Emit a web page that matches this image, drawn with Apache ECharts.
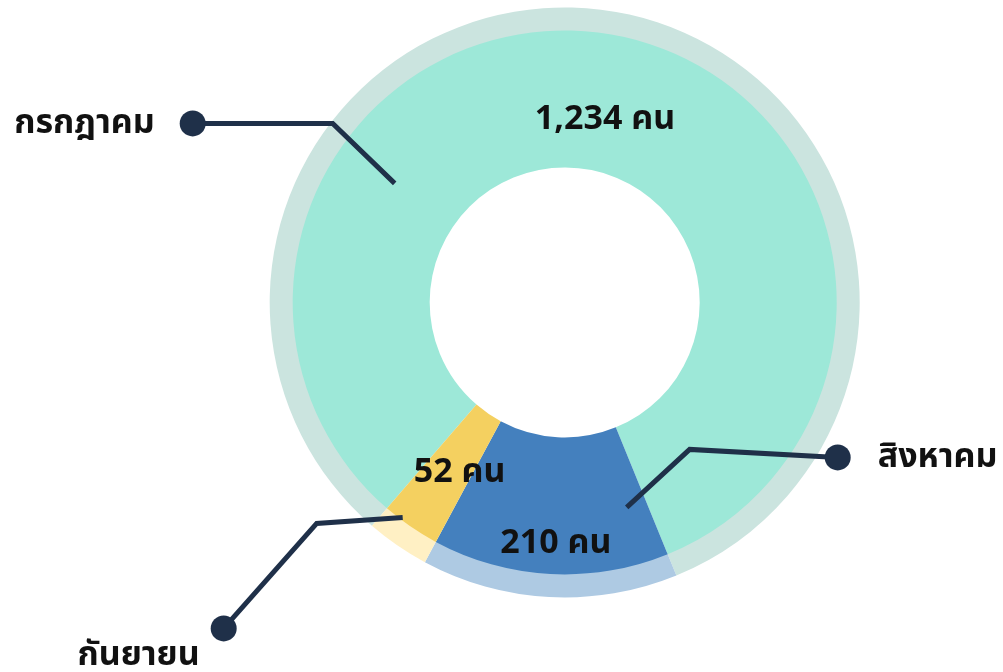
<!DOCTYPE html>
<html>
<head>
<meta charset="utf-8">
<script src="https://cdn.jsdelivr.net/npm/echarts@6/dist/echarts.min.js"></script>
<style>
  html, body { margin: 0; padding: 0; background: #fff; }
  #main { width: 1003px; height: 672px; }
</style>
</head>
<body>
<div id="main"></div>
<script>
// ข้อมูล
var months = ['กรกฎาคม', 'สิงหาคม', 'กันยายน'];
var counts = [1234, 210, 52];
var unit = 'คน';

var mainColors = ['#9de8d8', '#4480be', '#f4d060'];
var rimColors = ['#cbe4df', '#aecae3', '#fff0c4'];
var lineColor = '#1f3049';
var fontFamily = "'Noto Sans', 'Noto Sans Thai', sans-serif";

// callout geometry (offsets from pie centre): start, knee, dot
var callouts = [
  [[-170, -119], [-232, -179], [-372, -179]],
  [[62, 205], [125, 147], [273, 155]],
  [[-162, 215], [-248, 221], [-341, 326]]
];
// nudges for the value labels
var valueShift = [[7, 21], [2, 35], [12, 0]];

var chart = echarts.init(document.getElementById('main'));

function pieCenter() {
  return [chart.getWidth() * 0.563, chart.getHeight() * 0.45];
}

function pieData(colors) {
  return months.map(function (m, i) {
    return { name: m, value: counts[i], itemStyle: { color: colors[i] } };
  });
}

var option = {
  backgroundColor: '#fff',
  animation: false,
  series: [
    {
      name: 'rim',
      type: 'pie',
      center: ['56.3%', '45%'],
      radius: [271, 295],
      startAngle: 229.2,
      silent: true,
      z: 1,
      data: pieData(rimColors),
      label: { show: false },
      labelLine: { show: false }
    },
    {
      name: 'main',
      type: 'pie',
      center: ['56.3%', '45%'],
      radius: [135, 272],
      startAngle: 229.2,
      silent: true,
      z: 2,
      data: pieData(mainColors),
      label: {
        show: true,
        position: 'inside',
        fontFamily: fontFamily,
        fontSize: 34,
        fontWeight: 'bold',
        color: '#111',
        formatter: function (p) {
          return p.value.toLocaleString('en-US') + ' ' + unit;
        }
      },
      labelLine: { show: false },
      labelLayout: function (p) {
        var s = valueShift[p.dataIndex];
        return { dx: s[0], dy: s[1] };
      }
    },
    {
      // callouts only: transparent slices, visible label lines
      name: 'callout',
      type: 'pie',
      center: ['56.3%', '45%'],
      radius: [0, 20],
      startAngle: 229.2,
      silent: true,
      z: 10,
      data: pieData(['rgba(0,0,0,0)', 'rgba(0,0,0,0)', 'rgba(0,0,0,0)']),
      label: {
        show: true,
        position: 'outside',
        alignTo: 'none',
        fontFamily: fontFamily,
        formatter: function (p) {
          if (p.dataIndex === 0) return '{name|' + p.name + '}{dot|}';
          if (p.dataIndex === 1) return '{dot|}{name|' + p.name + '}';
          return '{dot|}\n{name2|' + p.name + '}';
        },
        rich: {
          name: { fontSize: 34, fontWeight: 'bold', color: '#111', fontFamily: fontFamily, padding: [0, 25, 0, 27] },
          name2: { fontSize: 34, fontWeight: 'bold', color: '#111', fontFamily: fontFamily, padding: [0, 37, 0, 0], lineHeight: 28, align: 'right' },
          dot: { width: 26, height: 26, borderRadius: 13, backgroundColor: lineColor, align: 'right' }
        }
      },
      labelLine: {
        show: true,
        lineStyle: { color: lineColor, width: 5 }
      },
      labelLayout: function (p) {
        var c = pieCenter();
        var pts = callouts[p.dataIndex].map(function (o) { return [c[0] + o[0], c[1] + o[1]]; });
        var dot = pts[2];
        if (p.dataIndex === 0) {
          return { x: dot[0] + 13, y: dot[1], align: 'right', verticalAlign: 'middle', labelLinePoints: pts };
        }
        if (p.dataIndex === 1) {
          return { x: dot[0] - 13, y: dot[1], align: 'left', verticalAlign: 'middle', labelLinePoints: pts };
        }
        return { x: dot[0] + 13, y: dot[1] - 13, align: 'right', verticalAlign: 'top', labelLinePoints: pts };
      }
    }
  ]
};

chart.setOption(option);
</script>
</body>
</html>
